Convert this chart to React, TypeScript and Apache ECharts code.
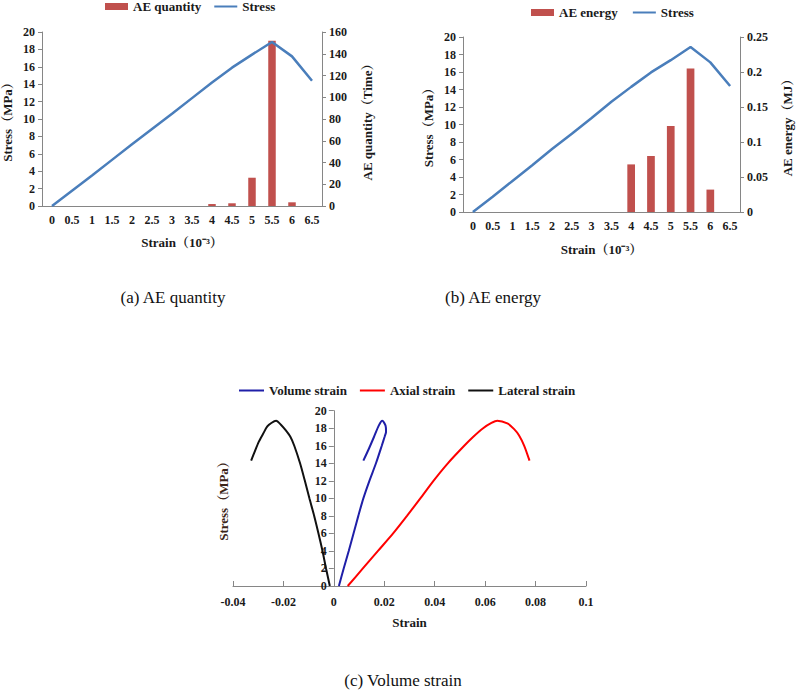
import React, { useEffect, useRef } from "react";
import * as echarts from "echarts";

// Strain steps (10^-3) shared by the AE charts
const strainSteps = ["0", "0.5", "1", "1.5", "2", "2.5", "3", "3.5", "4", "4.5", "5", "5.5", "6", "6.5"];
// Stress (MPa) at each strain step
const stressA = [0, 1.75, 3.5, 5.3, 7.1, 8.85, 10.6, 12.4, 14.2, 15.9, 17.4, 18.85, 17.2, 14.4];
const stressB = [0, 1.75, 3.55, 5.35, 7.2, 8.95, 10.75, 12.6, 14.3, 15.95, 17.35, 18.85, 17.1, 14.4];
// AE counts (Time) and AE energy (MJ)
const aeQuantity = [0, 0, 0, 0, 0, 0, 0, 0, 1.8, 2.5, 26, 152, 3.4, 0];
const aeEnergy = [0, 0, 0, 0, 0, 0, 0, 0, 0.068, 0.08, 0.123, 0.205, 0.032, 0];

// Stress–strain curves for the volume strain chart
const axialStress = [0, 2, 4, 6, 8, 10, 12, 14, 16, 17, 18, 18.6, 18.86, 18.55, 17.9, 17.2, 16, 14.3];
const axialStrain = [0.0055, 0.0115, 0.0175, 0.0235, 0.029, 0.0343, 0.0395, 0.0452, 0.0517, 0.0552, 0.0592, 0.0625, 0.0648, 0.0688, 0.0715, 0.0734, 0.0755, 0.0776];
const lateralStress = [0, 2, 4, 6, 8, 10, 12, 14, 16, 17, 17.8, 18.4, 18.86, 18.6, 18.2, 17.4, 16.5, 15.4, 14.3];
const lateralStrain = [-0.0016, -0.0031, -0.0045, -0.0061, -0.0078, -0.0097, -0.0115, -0.0134, -0.0157, -0.0172, -0.0192, -0.021, -0.0229, -0.0248, -0.0264, -0.028, -0.0297, -0.0313, -0.0328];
const volumeStress = [0, 2, 4, 6, 8, 10, 12, 14, 16, 17, 17.6, 18.3, 18.86, 18.3, 17.0, 15.6, 14.3];
const volumeStrain = [0.002, 0.0039, 0.0059, 0.0078, 0.0097, 0.0117, 0.0141, 0.0167, 0.019, 0.0201, 0.0207, 0.0205, 0.0192, 0.0178, 0.0159, 0.0138, 0.0117];

// strain range of the volume strain chart
const strainMin = -0.04;
const strainMax = 0.1;

const FONT = "Liberation Serif, Noto Serif CJK SC, Noto Sans CJK SC, serif";
const TEXT = "#1a1a1a";
const AXIS = "#868686";
const BAR = "#c0504d";
const LINE = "#4a7ebb";

const pairs = (xs: number[], ys: number[]) => xs.map((x, i) => [x, ys[i]]);

const labelStyle = { color: TEXT, fontFamily: FONT, fontWeight: "bold" as const, fontSize: 12 };
const nameStyle = { color: TEXT, fontFamily: FONT, fontWeight: "bold" as const, fontSize: 13 };

function catAxis(gridIndex: number, nameGap: number) {
  return {
    type: "category",
    gridIndex,
    data: strainSteps,
    boundaryGap: true,
    name: "Strain（10⁻³）",
    nameLocation: "middle",
    nameGap,
    nameTextStyle: nameStyle,
    axisLine: { lineStyle: { color: AXIS, width: 1 } },
    axisTick: { inside: true, length: 3, interval: 0, lineStyle: { color: AXIS } },
    axisLabel: { ...labelStyle, interval: 0, margin: 8 },
    splitLine: { show: false },
  };
}

function valAxis(gridIndex: number, position: "left" | "right", max: number, interval: number, name: string, nameGap: number) {
  return {
    type: "value",
    gridIndex,
    position,
    min: 0,
    max,
    interval,
    name,
    nameLocation: "middle",
    nameRotate: 90,
    nameGap,
    nameTextStyle: nameStyle,
    axisLine: { show: true, lineStyle: { color: AXIS, width: 1 } },
    axisTick: { show: true, length: 4, lineStyle: { color: AXIS } },
    axisLabel: { ...labelStyle, margin: 7 },
    splitLine: { show: false },
  };
}

// legend entry for a line series: line only, no marker
const lineEntry = (name: string) => ({ name, itemStyle: { opacity: 0 } });

const caption = (text: string, x: number, y: number) => ({
  type: "text",
  x,
  y,
  style: { text, fontFamily: FONT, fontSize: 17, fill: "#111", textAlign: "center", textVerticalAlign: "middle", align: "center", verticalAlign: "middle" },
});

// plot box of the volume strain chart
const cLeft = 233;
const cWidth = 353;
// the stress axis sits at zero strain, inside the plot
const zeroShift = (-strainMin / (strainMax - strainMin)) * cWidth;

export default function App() {
  const ref = useRef<HTMLDivElement>(null);

  useEffect(() => {
    if (!ref.current) return;
    const chart = echarts.init(ref.current, undefined, { renderer: "svg" });

    const legendText = { color: TEXT, fontFamily: FONT, fontWeight: "bold" as const, fontSize: 13 };

    chart.setOption({
      animation: false,
      backgroundColor: "#ffffff",
      legend: [
        {
          left: 105,
          top: 0,
          padding: 0,
          itemWidth: 23,
          itemHeight: 7,
          itemGap: 12,
          selectedMode: false,
          textStyle: legendText,
          data: [{ name: "AE quantity", icon: "rect" }, lineEntry("Stress")],
        },
        {
          left: 531,
          top: 6,
          padding: 0,
          itemWidth: 23,
          itemHeight: 7,
          itemGap: 14,
          selectedMode: false,
          textStyle: legendText,
          data: [{ name: "AE energy", icon: "rect" }, lineEntry("Stress")],
        },
        {
          left: 238,
          top: 384,
          padding: 0,
          itemWidth: 25,
          itemHeight: 8,
          itemGap: 12,
          selectedMode: false,
          textStyle: legendText,
          data: [lineEntry("Volume strain"), lineEntry("Axial strain"), lineEntry("Lateral strain")],
        },
      ],
      grid: [
        { left: 42, top: 32, width: 280, height: 174 },
        { left: 463, top: 37, width: 277, height: 175 },
        { left: cLeft, top: 410.7, width: cWidth, height: 175.3 },
      ],
      xAxis: [
        catAxis(0, 30),
        catAxis(1, 31),
        {
          type: "value",
          gridIndex: 2,
          min: strainMin,
          max: strainMax,
          interval: 0.02,
          name: "Strain",
          nameLocation: "middle",
          nameGap: 30,
          nameTextStyle: nameStyle,
          axisLine: { onZero: false, lineStyle: { color: AXIS, width: 1 } },
          axisTick: { inside: true, length: 5, lineStyle: { color: AXIS } },
          axisLabel: { ...labelStyle, margin: 10 },
          splitLine: { show: false },
        },
      ],
      yAxis: [
        valAxis(0, "left", 20, 2, "Stress（MPa）", 28),
        valAxis(0, "right", 160, 20, "AE quantity（Time）", 39),
        valAxis(1, "left", 20, 2, "Stress（MPa）", 28),
        valAxis(1, "right", 0.25, 0.05, "AE energy（MJ）", 41),
        {
          type: "value",
          gridIndex: 2,
          position: "left",
          offset: -zeroShift,
          min: 0,
          max: 20,
          interval: 2,
          axisLine: { show: true, onZero: false, lineStyle: { color: AXIS, width: 1 } },
          axisTick: { show: true, length: 5, lineStyle: { color: AXIS } },
          axisLabel: { ...labelStyle, margin: 7 },
          splitLine: { show: false },
        },
      ],
      series: [
        {
          name: "AE quantity",
          type: "bar",
          xAxisIndex: 0,
          yAxisIndex: 1,
          data: aeQuantity,
          barWidth: 7.5,
          itemStyle: { color: BAR },
        },
        {
          name: "Stress",
          type: "line",
          xAxisIndex: 0,
          yAxisIndex: 0,
          data: stressA,
          symbol: "none",
          lineStyle: { color: LINE, width: 2.5 },
          itemStyle: { color: LINE },
        },
        {
          name: "AE energy",
          type: "bar",
          xAxisIndex: 1,
          yAxisIndex: 3,
          data: aeEnergy,
          barWidth: 7.7,
          itemStyle: { color: BAR },
        },
        {
          name: "Stress",
          type: "line",
          xAxisIndex: 1,
          yAxisIndex: 2,
          data: stressB,
          symbol: "none",
          lineStyle: { color: LINE, width: 2.5 },
          itemStyle: { color: LINE },
        },
        {
          name: "Volume strain",
          type: "line",
          xAxisIndex: 2,
          yAxisIndex: 4,
          data: pairs(volumeStrain, volumeStress),
          symbol: "none",
          smooth: 0.25,
          lineStyle: { color: "#1f1fa8", width: 2 },
          itemStyle: { color: "#1f1fa8" },
        },
        {
          name: "Axial strain",
          type: "line",
          xAxisIndex: 2,
          yAxisIndex: 4,
          data: pairs(axialStrain, axialStress),
          symbol: "none",
          smooth: 0.25,
          lineStyle: { color: "#ff0000", width: 2 },
          itemStyle: { color: "#ff0000" },
        },
        {
          name: "Lateral strain",
          type: "line",
          xAxisIndex: 2,
          yAxisIndex: 4,
          data: pairs(lateralStrain, lateralStress),
          symbol: "none",
          smooth: 0.25,
          lineStyle: { color: "#111111", width: 2 },
          itemStyle: { color: "#111111" },
        },
      ],
      graphic: [
        caption("(a) AE quantity", 173, 297),
        caption("(b) AE energy", 493, 297),
        caption("(c) Volume strain", 403, 680),
        {
          // y-axis title of the volume strain chart, left of the plot
          type: "text",
          x: 223,
          y: 498,
          rotation: Math.PI / 2,
          style: {
            text: "Stress（MPa）",
            fontFamily: FONT,
            fontWeight: "bold",
            fontSize: 13,
            fill: "#3b2418",
            textAlign: "center",
            textVerticalAlign: "middle",
            align: "center",
            verticalAlign: "middle",
          },
        },
      ],
    });

    return () => chart.dispose();
  }, []);

  return <div ref={ref} style={{ position: "absolute", left: 0, top: 0, width: 796, height: 693 }} />;
}
